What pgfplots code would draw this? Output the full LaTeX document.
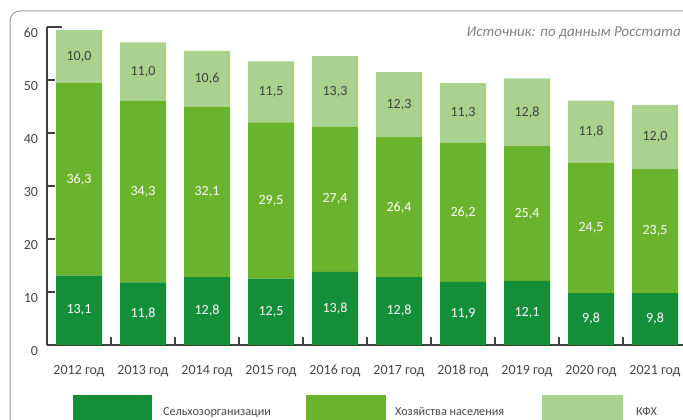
\documentclass[border=0pt]{standalone}
\usepackage{pgfplots}
\pgfplotsset{compat=1.18}
\usepackage{pgfplotstable}
\usepackage{fontspec}
\setmainfont{Carlito}
\definecolor{dkg}{RGB}{19,142,57}
\definecolor{mdg}{RGB}{107,178,45}
\definecolor{ltg}{RGB}{170,210,143}
\definecolor{axg}{RGB}{64,64,64}
\definecolor{txg}{RGB}{70,70,70}
\definecolor{frg}{RGB}{160,160,160}
\definecolor{srg}{RGB}{130,130,130}
\newcommand\tfont{\fontsize{14}{16}\selectfont}
\newcommand\lfont{\fontsize{12.2}{14}\selectfont}

% values: Сельхозорганизации, Хозяйства населения, КФХ
\pgfplotstableread{
x dark mid light
0 13.1 36.3 10.0
1 11.8 34.3 11.0
2 12.8 32.1 10.6
3 12.5 29.5 11.5
4 13.8 27.4 13.3
5 12.8 26.4 12.3
6 11.9 26.2 11.3
7 12.1 25.4 12.8
8 9.8 24.5 11.8
9 9.8 23.5 12.0
}\datatable

% label positions (middle of each segment) and values
\pgfplotstableread{
x yd vd ym vm yl vl
0 6.55 13.1 31.25 36.3 54.40 10.0
1 5.90 11.8 28.95 34.3 51.60 11.0
2 6.40 12.8 28.85 32.1 50.20 10.6
3 6.25 12.5 27.25 29.5 47.75 11.5
4 6.90 13.8 27.50 27.4 47.85 13.3
5 6.40 12.8 26.00 26.4 45.35 12.3
6 5.95 11.9 25.00 26.2 43.75 11.3
7 6.05 12.1 24.80 25.4 43.90 12.8
8 4.90 9.8 22.05 24.5 40.20 11.8
9 4.90 9.8 21.55 23.5 39.30 12.0
}\labtable

\pgfplotsset{
  /pgf/number format/assume math mode=true,
  base/.style={scale only axis, width=640pt, height=318pt,
    xmin=-0.5, xmax=9.5, ymin=0, ymax=60,
    at={(47pt,75pt)}, anchor=south west},
}

\begin{document}
\begin{tikzpicture}[x=1pt,y=1pt]
\useasboundingbox (0,0) rectangle (683,420);
\clip (0,0) rectangle (683,420);
\draw[rounded corners=10pt, draw=frg, line width=1pt] (10,409) rectangle (740,-40);

\node[anchor=east, inner sep=0pt, text=srg, font=\fontsize{15}{17}\selectfont\itshape] at (681,387) {Источник: по данным Росстата};

\begin{axis}[base,
  ybar stacked, bar width=46pt,
  axis x line=bottom, axis y line=left,
  axis line style={-, draw=axg, line width=1.3pt},
  tick style={draw=axg, line width=1.3pt},
  tick align=inside,
  major tick length=8pt,
  ytick={0,10,...,50},
  extra y ticks={60},
  extra y tick style={major tick length=15pt},
  xtick={-0.5,0.5,...,9.5},
  xticklabels={},
  extra x ticks={0,...,9},
  extra x tick labels={2012 год,2013 год,2014 год,2015 год,2016 год,2017 год,2018 год,2019 год,2020 год,2021 год},
  extra x tick style={major tick length=0pt},
  xticklabel style={anchor=base, yshift=-29.5pt, font=\tfont, text=txg},
  yticklabel style={anchor=base east, xshift=-5.5pt, yshift=-10.5pt, font=\tfont, text=txg},
]
\addplot[fill=dkg, draw=none] table[x=x, y=dark] {\datatable};
\addplot[fill=mdg, draw=none] table[x=x, y=mid] {\datatable};
\addplot[fill=ltg, draw=none] table[x=x, y=light] {\datatable};
\end{axis}

\begin{axis}[base, hide axis,
  point meta=explicit,
  nodes near coords={\pgfmathprintnumber[fixed,fixed zerofill,precision=1,use comma]{\pgfplotspointmeta}},
  nodes near coords align=center,
]
\addplot[only marks, mark=none, every node near coord/.append style={font=\tfont, text=white, anchor=center}] table[x=x, y=yd, meta=vd] {\labtable};
\addplot[only marks, mark=none, every node near coord/.append style={font=\tfont, text=white, anchor=center}] table[x=x, y=ym, meta=vm] {\labtable};
\addplot[only marks, mark=none, every node near coord/.append style={font=\tfont, text=axg, anchor=center}] table[x=x, y=yl, meta=vl] {\labtable};
\end{axis}

\fill[dkg] (73,0) rectangle (152,25);
\fill[mdg] (306,0) rectangle (386,25);
\fill[ltg] (542,0) rectangle (623,25);
\node[anchor=base west, inner sep=0pt, text=txg, font=\lfont] at (163,4.5) {Сельхозорганизации};
\node[anchor=base west, inner sep=0pt, text=txg, font=\lfont] at (395,4.5) {Хозяйства населения};
\node[anchor=base west, inner sep=0pt, text=txg, font=\lfont] at (636,4.5) {КФХ};
\end{tikzpicture}
\end{document}
